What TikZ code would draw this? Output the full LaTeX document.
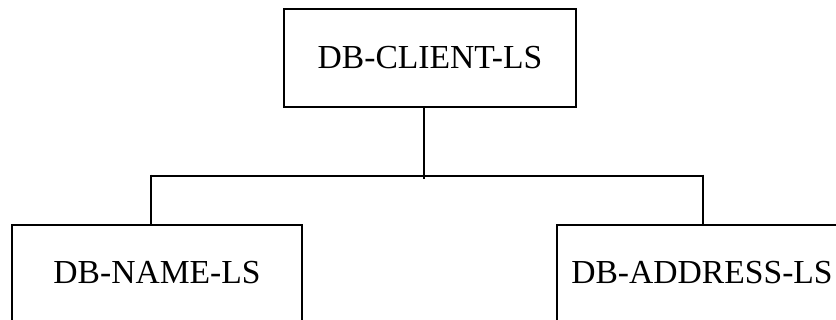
\documentclass[tikz,border=0pt]{standalone}
\usepackage{fontspec}
\setmainfont{Liberation Serif}
\begin{document}
\begin{tikzpicture}[x=0.75pt,y=-0.75pt,
  box/.style={draw=black,line width=2pt,rectangle,inner sep=0pt,
    font=\fontsize{25.2}{30}\selectfont},
  topbox/.style={box,minimum width=219pt,minimum height=73.5pt},
  lowbox/.style={box,minimum width=217.5pt,minimum height=78.75pt,
    text height=16.7pt,text depth=6.95pt},
  conn/.style={line width=2pt}]
\useasboundingbox (0,0) rectangle (836,320);
\clip (0,0) rectangle (836,320);
\node[topbox] (client) at (430,58) {DB-CLIENT-LS};
\node[lowbox] (name) at (157,277.5) {DB-NAME-LS};
\node[lowbox] (addr) at (702,277.5) {DB-ADDRESS-LS};
\coordinate (j) at (424,176);
\coordinate (jl) at (151,176);
\coordinate (jr) at (703,176);
\draw[conn] (client.south -| j) -- ([yshift=-2pt]j);
\draw[conn] (jl) -- (jr);
\draw[conn] ([yshift=1pt]jl) -- (jl |- name.north);
\draw[conn] ([yshift=1pt]jr) -- (jr |- addr.north);
\end{tikzpicture}
\end{document}
